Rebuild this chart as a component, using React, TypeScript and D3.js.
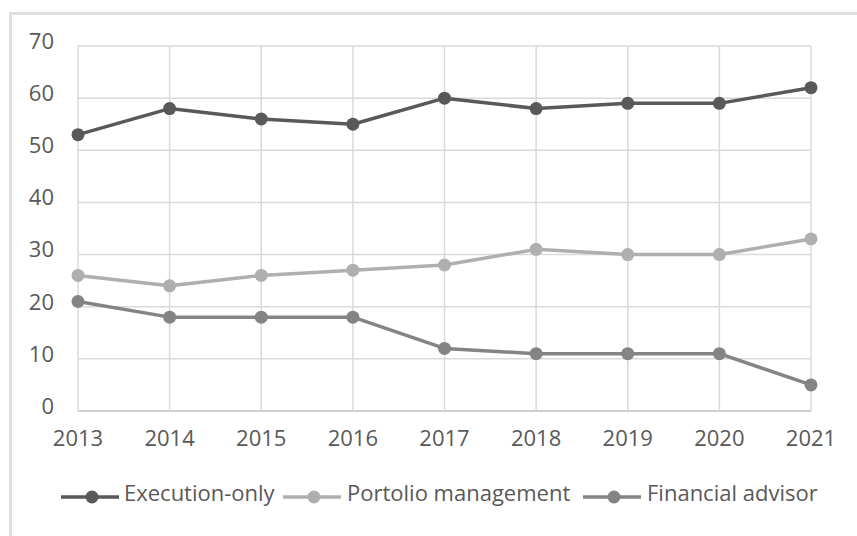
import React from "react";
import * as d3 from "d3";

const years = ["2013", "2014", "2015", "2016", "2017", "2018", "2019", "2020", "2021"];
const executionOnly = [53, 58, 56, 55, 60, 58, 59, 59, 62];
const portfolioManagement = [26, 24, 26, 27, 28, 31, 30, 30, 33];
const financialAdvisor = [21, 18, 18, 18, 12, 11, 11, 11, 5];
const yTicks = [0, 10, 20, 30, 40, 50, 60, 70];
const seriesNames = ["Execution-only", "Portolio management", "Financial advisor"];
const seriesColors = ["#595959", "#afafaf", "#848484"];

const W = 857;
const H = 536;
const FONT = "'Open Sans', sans-serif";
const TEXT = "#595959";

export default function App() {
  const x = d3.scalePoint<string>().domain(years).range([78, 811]);
  const y = d3.scaleLinear().domain([0, 70]).range([411, 46]);
  const series = [executionOnly, portfolioManagement, financialAdvisor];
  const line = d3
    .line<number>()
    .x((_, i) => x(years[i]) as number)
    .y((d) => y(d));

  const legendItems = [
    { lineX: 61, textX: 124 },
    { lineX: 283, textX: 347 },
    { lineX: 583, textX: 647 },
  ];

  return (
    <div style={{ position: "absolute", left: 0, top: 0 }}>
      <svg width={W} height={H} style={{ display: "block", background: "#fff" }}>
        {/* frame */}
        <line x1={10.5} x2={W} y1={13.5} y2={13.5} stroke="#dedede" strokeWidth={3} />
        <line x1={10.5} x2={10.5} y1={12} y2={H} stroke="#dedede" strokeWidth={3} />

        {/* horizontal gridlines */}
        {yTicks.map((t) => (
          <line
            key={"h" + t}
            x1={78}
            x2={811}
            y1={y(t)}
            y2={y(t)}
            stroke={t === 0 ? "#cfcfcf" : "#dadada"}
            strokeWidth={t === 0 ? 2 : 1.5}
          />
        ))}
        {/* vertical gridlines */}
        {years.map((yr) => (
          <line
            key={"v" + yr}
            x1={x(yr)}
            x2={x(yr)}
            y1={46}
            y2={411}
            stroke="#dadada"
            strokeWidth={1.5}
          />
        ))}

        {/* y tick labels */}
        {yTicks.map((t) => (
          <text
            key={"yl" + t}
            x={54}
            y={y(t) - 3}
            textAnchor="end"
            dominantBaseline="middle"
            fontFamily={FONT}
            fontSize={22}
            fill={TEXT}
          >
            {t}
          </text>
        ))}
        {/* x tick labels */}
        {years.map((yr) => (
          <text
            key={"xl" + yr}
            x={x(yr)}
            y={440}
            textAnchor="middle"
            dominantBaseline="middle"
            fontFamily={FONT}
            fontSize={22}
            fill={TEXT}
          >
            {yr}
          </text>
        ))}

        {/* series */}
        {series.map((vals, si) => (
          <g key={"s" + si}>
            <path d={line(vals) as string} fill="none" stroke={seriesColors[si]} strokeWidth={3.5} strokeLinejoin="round" />
            {vals.map((v, i) => (
              <circle key={i} cx={x(years[i])} cy={y(v)} r={6.5} fill={seriesColors[si]} />
            ))}
          </g>
        ))}

        {/* legend */}
        {legendItems.map((it, i) => (
          <g key={"lg" + i}>
            <line x1={it.lineX} x2={it.lineX + 58} y1={497} y2={497} stroke={seriesColors[i]} strokeWidth={3.5} />
            <circle cx={it.lineX + 31} cy={497} r={6.5} fill={seriesColors[i]} />
            <text
              x={it.textX}
              y={495}
              dominantBaseline="middle"
              fontFamily={FONT}
              fontSize={22}
              fill={TEXT}
            >
              {seriesNames[i]}
            </text>
          </g>
        ))}
      </svg>
    </div>
  );
}
